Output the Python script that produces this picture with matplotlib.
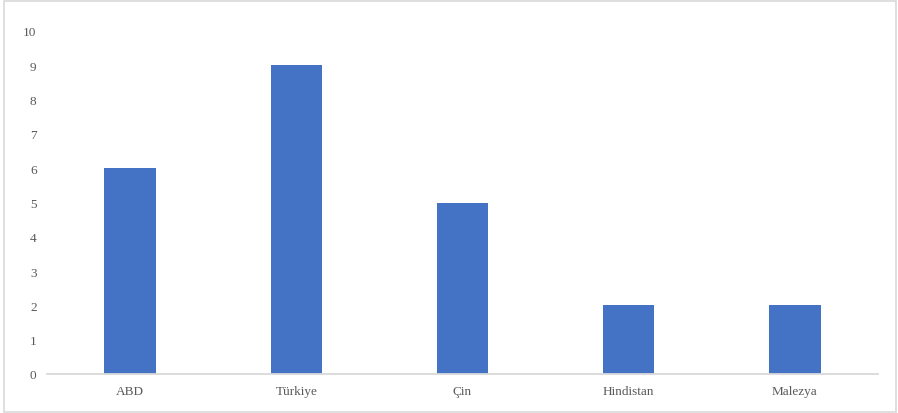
import matplotlib
matplotlib.use("Agg")
import matplotlib.pyplot as plt
from matplotlib.patches import Rectangle

ulkeler = ["ABD", "Türkiye", "Çin", "Hindistan", "Malezya"]
degerler = [6, 9, 5, 2, 2]
y_ticks = [0, 1, 2, 3, 4, 5, 6, 7, 8, 9, 10]

plt.rcParams['font.family'] = ['Liberation Serif', 'DejaVu Serif']

fig = plt.figure(figsize=(8.98, 4.14), dpi=100)
ax = fig.add_axes([47/898, 1 - 375/414, 831/898, 343/414])

x = range(len(ulkeler))
ax.bar(x, degerler, width=0.31, color='#4472C4', zorder=2)

ax.set_xlim(-0.5, len(ulkeler) - 0.5)
ax.set_ylim(0, 10)
ax.set_yticks(y_ticks)
ax.set_xticks(list(x))
ax.set_xticklabels(ulkeler)

for s in ['top', 'right', 'left']:
    ax.spines[s].set_visible(False)
ax.spines['bottom'].set_color('#d9d9d9')
ax.spines['bottom'].set_linewidth(1.3)

ax.tick_params(axis='both', length=0, labelsize=9.5, colors='#595959')
ax.tick_params(axis='y', pad=7.5)
ax.tick_params(axis='x', pad=8)

# çerçeve
fig.patches.append(Rectangle((4/898, 1/414), 892/898, 411/414, transform=fig.transFigure,
                             fill=False, edgecolor='#d9d9d9', linewidth=1.2))

fig.savefig("out.png", dpi=100)
